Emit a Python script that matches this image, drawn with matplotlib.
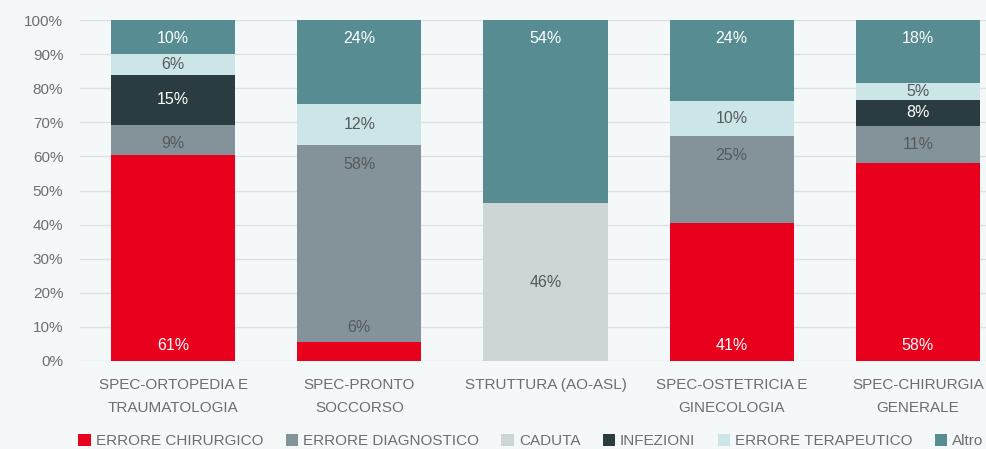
import matplotlib
matplotlib.use("Agg")
import matplotlib.pyplot as plt
from matplotlib.patches import Patch
import numpy as np

categorie = ["SPEC-ORTOPEDIA E\nTRAUMATOLOGIA", "SPEC-PRONTO\nSOCCORSO", "STRUTTURA (AO-ASL)",
             "SPEC-OSTETRICIA E\nGINECOLOGIA", "SPEC-CHIRURGIA\nGENERALE"]
serie = ["ERRORE CHIRURGICO", "ERRORE DIAGNOSTICO", "CADUTA", "INFEZIONI", "ERRORE TERAPEUTICO", "Altro"]

chirurgico = [60.5, 5.5, 0, 40.6, 58.0]
diagnostico = [8.8, 57.7, 0, 25.3, 11.0]
caduta = [0, 0, 46.2, 0, 0]
infezioni = [14.5, 0, 0, 0, 7.6]
terapeutico = [6.2, 12.3, 0, 10.2, 5.0]
altro = [10.0, 24.5, 53.8, 23.9, 18.4]

etichette = {
    "ERRORE CHIRURGICO": ["61%", "6%", "", "41%", "58%"],
    "ERRORE DIAGNOSTICO": ["9%", "58%", "", "25%", "11%"],
    "CADUTA": ["", "", "46%", "", ""],
    "INFEZIONI": ["15%", "", "", "", "8%"],
    "ERRORE TERAPEUTICO": ["6%", "12%", "", "10%", "5%"],
    "Altro": ["10%", "24%", "54%", "24%", "18%"],
}

colori = ["#e8001c", "#84939a", "#cdd5d6", "#2a3c40", "#cce5e7", "#578d92"]
col_testo = ["white", "#555a5c", "#555a5c", "white", "#555a5c", "white"]
# where the label sits inside the segment
modo = ["bottom", "top", "center", "center", "center", "top"]

plt.rcParams['font.family'] = ['Liberation Sans', 'DejaVu Sans']
bg = "#f5f8f8"
fig = plt.figure(figsize=(9.86, 4.49), dpi=100, facecolor=bg)
ax = fig.add_axes([80/986, 1 - 361/449, 931/986, 341/449], facecolor=bg)

x = np.arange(len(categorie))
base = np.zeros(len(categorie))
for nome, vals, c, tc, m in zip(serie, [chirurgico, diagnostico, caduta, infezioni, terapeutico, altro],
                                colori, col_testo, modo):
    vals = np.array(vals)
    ax.bar(x, vals, bottom=base, width=0.667, color=c, zorder=2)
    for i, v in enumerate(vals):
        lab = etichette[nome][i]
        if v <= 0 or not lab:
            continue
        if m == "bottom":
            y = base[i] + 4.4 if v > 10 else base[i] + v + 4.4
            col = tc if v > 10 else "#555a5c"
        elif m == "top":
            y = max(base[i] + v - 5.5, base[i] + v / 2 - 1)
            col = tc
        else:
            y = base[i] + v / 2
            col = tc
        ax.text(x[i], y, lab, ha="center", va="center", color=col, fontsize=11.5, zorder=3)
    base += vals

ax.set_xlim(-0.5, 4.5)
ax.set_ylim(0, 100)
ax.set_yticks(np.arange(0, 101, 10))
ax.set_yticklabels([f"{t}%" for t in range(0, 101, 10)])
ax.yaxis.grid(True, color="#dde1e1", lw=1, zorder=0)
ax.set_xticks(x)
ax.set_xticklabels(categorie, linespacing=1.85)
ax.tick_params(axis="both", length=0, labelsize=11, colors="#6b6f70")
ax.tick_params(axis="y", pad=12)
ax.tick_params(axis="x", pad=12)
for s in ax.spines.values():
    s.set_visible(False)

handles = [Patch(facecolor=c, label=n) for c, n in zip(colori, serie)]
fig.legend(handles=handles, loc="center", bbox_to_anchor=(531/986, 1 - 441/449), ncol=6, frameon=False,
           fontsize=11, labelcolor="#6b6f70", handlelength=0.8, handleheight=0.8, handletextpad=0.35,
           columnspacing=1.45)

fig.savefig("out.png", dpi=100, facecolor=bg)
